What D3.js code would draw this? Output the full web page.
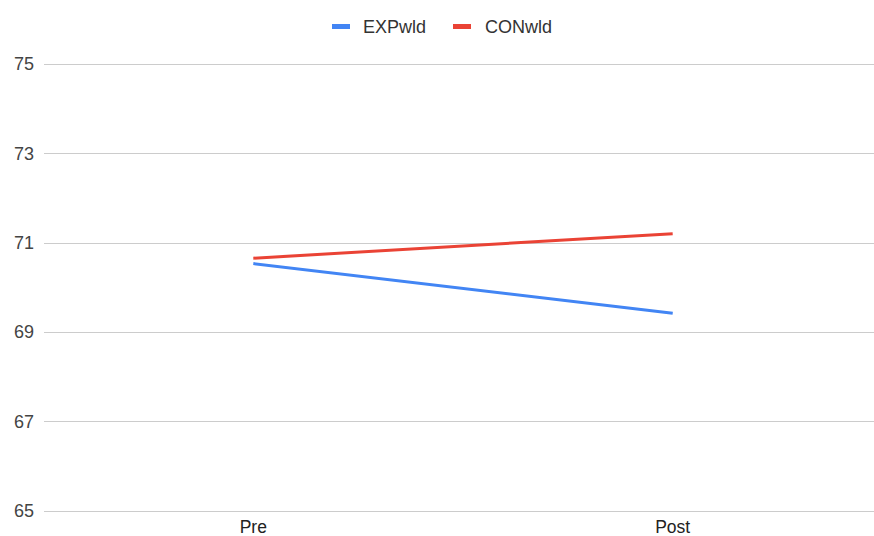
<!DOCTYPE html>
<html>
<head>
<meta charset="utf-8">
<script src="https://cdn.jsdelivr.net/npm/d3@7"></script>
<style>
  html, body { margin: 0; padding: 0; background: #fff; }
  svg { display: block; font-family: Arial, "Liberation Sans", sans-serif; }
</style>
</head>
<body>
<svg id="chart" width="874" height="536"></svg>
<script>
// Chart data
const categories = ["Pre", "Post"];
const seriesNames = ["EXPwld", "CONwld"];
const seriesColors = ["#4285f4", "#ea4335"];
const expValues = [70.53, 69.42];
const conValues = [70.65, 71.20];
const yTicks = [65, 67, 69, 71, 73, 75];

const series = [
  { name: seriesNames[0], color: seriesColors[0], values: expValues },
  { name: seriesNames[1], color: seriesColors[1], values: conValues }
];

const plot = { left: 44, right: 874, top: 64, bottom: 510.5 };

const svg = d3.select("#chart");

const x = d3.scalePoint()
  .domain(categories)
  .range([43.6, 882.4])
  .padding(0.5);

const y = d3.scaleLinear()
  .domain([65, 75])
  .range([plot.bottom, plot.top]);

// Horizontal gridlines
svg.append("g")
  .selectAll("line")
  .data(yTicks)
  .join("line")
  .attr("x1", plot.left)
  .attr("x2", plot.right)
  .attr("y1", d => Math.round(y(d)) + 0.5)
  .attr("y2", d => Math.round(y(d)) + 0.5)
  .attr("stroke", "#cccccc")
  .attr("stroke-width", 1);

// Y axis labels
svg.append("g")
  .selectAll("text")
  .data(yTicks)
  .join("text")
  .attr("x", 34)
  .attr("y", d => y(d))
  .attr("dy", "0.35em")
  .attr("text-anchor", "end")
  .attr("font-size", 18)
  .attr("fill", "#444444")
  .text(d => d);

// X axis labels
svg.append("g")
  .selectAll("text")
  .data(categories)
  .join("text")
  .attr("x", d => x(d))
  .attr("y", 533)
  .attr("text-anchor", "middle")
  .attr("font-size", 17.5)
  .attr("fill", "#222222")
  .text(d => d);

// Series lines
const line = d3.line()
  .x((d, i) => x(categories[i]))
  .y(d => y(d));

svg.append("g")
  .selectAll("path")
  .data(series)
  .join("path")
  .attr("d", d => line(d.values))
  .attr("fill", "none")
  .attr("stroke", d => d.color)
  .attr("stroke-width", 3);

// Legend
const legendItems = [
  { x: 332, textX: 363 },
  { x: 453, textX: 485 }
];
const legend = svg.append("g");
series.forEach((s, i) => {
  legend.append("rect")
    .attr("x", legendItems[i].x)
    .attr("y", 24)
    .attr("width", 18)
    .attr("height", 5)
    .attr("fill", s.color);
  legend.append("text")
    .attr("x", legendItems[i].textX)
    .attr("y", 26.5)
    .attr("dy", "0.35em")
    .attr("font-size", 18)
    .attr("fill", "#333333")
    .text(s.name);
});
</script>
</body>
</html>
